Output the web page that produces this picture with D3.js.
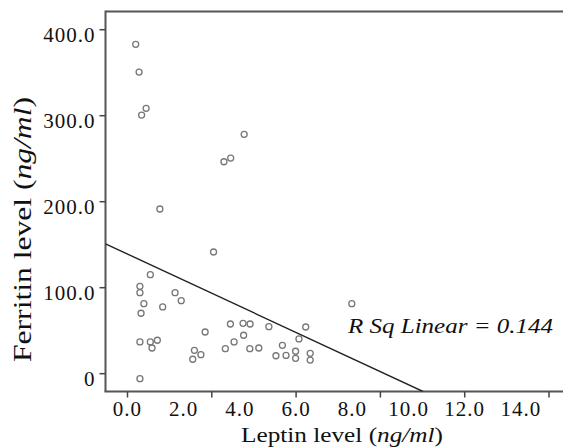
<!DOCTYPE html>
<html>
<head>
<meta charset="utf-8">
<script src="https://cdn.jsdelivr.net/npm/d3@7/dist/d3.min.js"></script>
<style>
  html, body { margin: 0; padding: 0; background: #fff; overflow: hidden; }
  #scatter-leptin-ferritin { width: 563px; height: 448px; }
</style>
</head>
<body>
<div id="scatter-leptin-ferritin"></div>
<script>
// Leptin vs ferritin scatter with linear fit
const leptin = [0.31, 0.43, 0.68, 0.52, 4.17, 3.69, 3.45, 1.17, 3.08, 0.83,
  0.46, 0.46, 1.71, 1.93, 0.60, 1.27, 0.50, 3.68, 4.13, 4.38,
  5.05, 2.78, 4.15, 0.46, 0.83, 1.08, 0.89, 3.81, 2.40, 3.50,
  4.37, 4.69, 5.53, 2.63, 2.34, 5.30, 5.66, 0.46, 8.00, 6.36,
  6.12, 6.00, 6.00, 6.52, 6.52];
const ferritin = [382.4, 350.2, 308.0, 300.2, 277.8, 250.2, 245.9, 190.9, 140.9, 114.5,
  101.0, 93.6, 93.6, 84.3, 80.8, 77.0, 69.7, 57.2, 58.0, 57.2,
  54.1, 47.9, 44.1, 36.3, 36.3, 38.3, 29.3, 36.3, 26.6, 28.5,
  28.5, 29.3, 32.4, 21.5, 16.2, 20.3, 20.7, -6.4, 80.8, 53.7,
  39.8, 25.5, 17.3, 23.1, 15.3];

const xTickMarks = [0, 3, 6, 9, 12, 15];
const xTickLabels = [0, 2, 4, 6, 8, 10, 12, 14];
const yTicks = [0, 100, 200, 300, 400];

const fitIntercept = 138.8;
const fitSlope = -15.2;
const rSquared = 0.144;

(function() {
  const container = document.getElementById('scatter-leptin-ferritin');
  const width = 563, height = 448;
  const serif = '"Liberation Serif", "Times New Roman", Times, serif';

  const svg = d3.select(container)
    .append('svg')
    .attr('width', width)
    .attr('height', height);

  const x = d3.scaleLinear().domain([-0.765, 15.765]).range([105.5, 570]);
  const y = d3.scaleLinear().domain([-21.3, 420.6]).range([391.5, 11.5]);

  svg.append('clipPath').attr('id', 'plot-clip')
    .append('rect')
    .attr('x', x.range()[0]).attr('y', y.range()[1])
    .attr('width', x.range()[1] - x.range()[0])
    .attr('height', y.range()[0] - y.range()[1]);

  // frame top line
  svg.append('line')
    .attr('x1', x.range()[0]).attr('x2', x.range()[1])
    .attr('y1', y.range()[1]).attr('y2', y.range()[1])
    .attr('stroke', '#555').attr('stroke-width', 2);

  // y axis
  const yAxis = svg.append('g')
    .attr('transform', `translate(${x.range()[0]},0)`)
    .call(d3.axisLeft(y).tickValues(yTicks).tickSize(6).tickPadding(4)
      .tickFormat(d => d === 0 ? '0' : d3.format('.1f')(d)));
  yAxis.select('.domain').attr('stroke', '#555').attr('stroke-width', 2)
    .attr('d', `M0,${y.range()[1] - 1}V${y.range()[0]}`);
  yAxis.selectAll('.tick line').attr('stroke', '#444').attr('stroke-width', 1.5);
  yAxis.selectAll('.tick text')
    .attr('dy', '12.7')
    .style('font-family', serif)
    .style('font-size', '21px')
    .style('letter-spacing', '1px')
    .attr('fill', '#111');

  // x axis: tick marks (every 3) and labels (every 2) are offset in the source
  const xMarks = svg.append('g')
    .attr('transform', `translate(0,${y.range()[0]})`)
    .call(d3.axisBottom(x).tickValues(xTickMarks).tickSize(6).tickFormat(''));
  xMarks.select('.domain').attr('stroke', '#555').attr('stroke-width', 2)
    .attr('d', `M${x.range()[0] - 1},0H${x.range()[1]}`);
  xMarks.selectAll('.tick line').attr('stroke', '#444').attr('stroke-width', 1.5);

  const xLabels = svg.append('g')
    .attr('transform', `translate(0,${y.range()[0]})`)
    .call(d3.axisBottom(x).tickValues(xTickLabels).tickSize(0).tickFormat(d3.format('.1f')));
  xLabels.select('.domain').remove();
  xLabels.selectAll('.tick text')
    .attr('y', 0)
    .attr('dy', '24.5')
    .style('font-family', serif)
    .style('font-size', '21px')
    .style('letter-spacing', '1px')
    .attr('fill', '#111');

  // fit line
  const fitX = [x.domain()[0], (y.domain()[0] - fitIntercept) / fitSlope];
  svg.append('line')
    .attr('clip-path', 'url(#plot-clip)')
    .attr('x1', x(fitX[0])).attr('y1', y(fitIntercept + fitSlope * fitX[0]))
    .attr('x2', x(fitX[1])).attr('y2', y(fitIntercept + fitSlope * fitX[1]))
    .attr('stroke', '#222').attr('stroke-width', 1.4);

  // points
  svg.append('g').selectAll('circle')
    .data(leptin.map((v, i) => [v, ferritin[i]]))
    .join('circle')
    .attr('cx', d => x(d[0]))
    .attr('cy', d => y(d[1]))
    .attr('r', 3)
    .attr('fill', '#fff')
    .attr('stroke', '#777')
    .attr('stroke-width', 1.3);

  // annotation
  svg.append('text')
    .attr('x', 348).attr('y', 333)
    .attr('textLength', 205).attr('lengthAdjust', 'spacingAndGlyphs')
    .style('font-family', serif)
    .style('font-size', '22px')
    .style('font-style', 'italic')
    .attr('fill', '#111')
    .text(`R Sq Linear = ${rSquared.toFixed(3)}`);

  // axis titles
  const xt = svg.append('text')
    .attr('x', 241).attr('y', 441.5)
    .attr('textLength', 202).attr('lengthAdjust', 'spacingAndGlyphs')
    .style('font-family', serif)
    .style('font-size', '22px')
    .attr('fill', '#111');
  xt.append('tspan').text('Leptin level (');
  xt.append('tspan').style('font-style', 'italic').text('ng/ml');
  xt.append('tspan').text(')');

  const yt = svg.append('text')
    .attr('transform', 'translate(31,362) rotate(-90)')
    .attr('x', 0).attr('y', 0)
    .attr('textLength', 265).attr('lengthAdjust', 'spacingAndGlyphs')
    .style('font-family', serif)
    .style('font-size', '25px')
    .attr('fill', '#111');
  yt.append('tspan').text('Ferritin level (');
  yt.append('tspan').style('font-style', 'italic').text('ng/ml');
  yt.append('tspan').text(')');
})();
</script>
</body>
</html>
